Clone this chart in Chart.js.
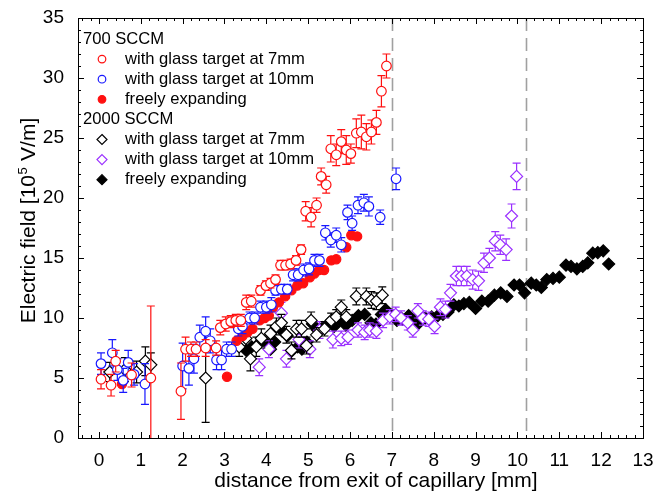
<!DOCTYPE html>
<html>
<head>
<meta charset="utf-8">
<script src="https://cdn.jsdelivr.net/npm/chart.js@4.4.0/dist/chart.umd.min.js"></script>
<style>
  html, body { margin: 0; padding: 0; background: #fff; }
  #wrap { width: 667px; height: 493px; }
</style>
</head>
<body>
<div id="wrap"><canvas id="fieldChart" width="667" height="493"></canvas></div>
<script>
"use strict";

// Axis ticks
const xTicks = [0, 1, 2, 3, 4, 5, 6, 7, 8, 9, 10, 11, 12, 13];
const yTicks = [0, 5, 10, 15, 20, 25, 30, 35];

// Dashed marker lines (target positions)
const targetLines = [7.0, 10.2];

// 700 SCCM, glass target at 7mm
const red7X = [0.05, 0.29, 0.4, 0.78, 1.24, 1.96, 2.07, 2.2, 2.32, 2.55, 2.8, 2.9, 3.03, 3.15, 3.27,
  3.39, 3.52, 3.64, 3.86, 3.99, 4.1, 4.22, 4.34, 4.46, 4.58, 4.71, 4.83, 4.94, 5.07, 5.2,
  5.31, 5.43, 5.54, 5.67, 5.79, 5.91, 6.02, 6.15, 6.27, 6.39, 6.51, 6.63, 6.75, 6.87];
const red7Y = [4.9, 4.4, 6.4, 5.25, 5.0, 3.9, 7.4, 7.4, 7.4, 7.5, 7.5, 9.2, 9.5, 9.7, 9.8,
  9.8, 11.3, 11.4, 12.3, 12.7, 12.9, 13.2, 14.4, 14.4, 14.5, 14.8, 15.7, 18.9, 18.4, 19.4,
  21.8, 21.1, 24.1, 23.6, 24.7, 24.0, 23.7, 25.4, 25.5, 25.1, 25.5, 26.3, 28.9, 31.0];
const red7Err = [0.8, 0.9, 0.9, 1.0, 6.0, 2.35, 1.0, 0.6, 0.6, 0.7, 0.6, 0.6, 0.6, 0.5, 0.5,
  0.5, 0.6, 0.5, 0.4, 0.4, 0.4, 0.4, 0.4, 0.4, 0.4, 0.4, 0.4, 0.8, 0.8, 0.6,
  0.7, 0.7, 1.1, 0.9, 1.0, 1.2, 0.8, 1.2, 1.4, 1.1, 1.0, 1.0, 1.3, 1.0];

// 700 SCCM, glass target at 10mm
const blue10X = [0.05, 0.32, 0.44, 0.58, 0.7, 0.84, 1.1, 2.0, 2.15, 2.27, 2.41, 2.55, 2.66, 2.81, 2.93,
  3.05, 3.17, 3.33, 3.43, 3.6, 3.72, 3.86, 4.0, 4.12, 4.22, 4.36, 4.5, 4.64, 4.76, 4.89,
  5.02, 5.15, 5.27, 5.41, 5.54, 5.67, 5.79, 5.94, 6.05, 6.19, 6.33, 6.45, 6.72, 7.1];
const blue10Y = [6.2, 7.1, 5.7, 4.8, 6.3, 5.3, 4.5, 6.0, 5.8, 6.6, 8.4, 8.9, 8.1, 6.5, 6.5,
  7.4, 7.4, 9.1, 9.3, 10.0, 10.0, 10.9, 10.9, 11.1, 12.3, 12.4, 12.4, 13.6, 13.6, 14.0,
  14.1, 14.8, 14.8, 17.1, 16.5, 16.9, 16.1, 18.8, 17.9, 19.4, 19.6, 19.3, 18.4, 21.6];
const blue10Err = [0.9, 1.1, 0.9, 1.0, 1.0, 0.9, 1.7, 1.9, 1.4, 1.2, 1.0, 1.2, 1.0, 0.8, 0.8,
  0.6, 0.6, 0.6, 0.6, 0.5, 0.5, 0.5, 0.5, 0.6, 0.4, 0.4, 0.4, 0.5, 0.5, 0.5,
  0.5, 0.5, 0.5, 0.6, 0.6, 0.6, 0.6, 0.6, 0.6, 0.7, 0.7, 0.8, 0.6, 0.9];

// 700 SCCM, freely expanding
const redFreeX = [0.55, 3.06, 3.29, 3.43, 3.55, 3.67, 3.84, 3.96, 4.06, 4.16, 4.3, 4.45,
  4.6, 4.74, 4.88, 5.04, 5.15, 5.26, 5.38, 5.55, 5.67, 5.91, 6.03, 6.17];
const redFreeY = [4.5, 5.1, 8.1, 8.5, 8.8, 9.1, 9.8, 10.0, 10.2, 10.9, 11.3, 11.8,
  12.3, 12.7, 12.9, 13.4, 13.7, 14.0, 14.0, 14.8, 14.9, 15.9, 16.9, 16.8];

// 2000 SCCM, glass target at 7mm
const black7X = [0.26, 0.62, 0.9, 1.11, 1.24, 2.55, 3.35, 3.51, 3.62, 3.76, 3.88, 4.1, 4.24, 4.36, 4.48,
  4.6, 4.72, 4.84, 4.96, 5.07, 5.2, 5.39, 5.55, 5.67, 5.79, 5.91, 6.15, 6.39, 6.51, 6.63, 6.77];
const black7Y = [5.5, 5.7, 5.5, 6.4, 6.1, 5.0, 7.6, 8.3, 6.6, 7.6, 8.3, 8.7, 9.3, 9.6, 8.6,
  7.3, 9.1, 9.1, 7.7, 9.8, 8.6, 9.1, 9.8, 10.1, 10.9, 10.1, 11.8, 11.8, 11.5, 11.4, 11.9];
const black7Err = [0.8, 1.0, 0.9, 1.2, 1.0, 3.7, 0.8, 0.9, 1.0, 0.8, 0.8, 0.7, 0.7, 0.7, 0.7,
  0.7, 0.7, 0.7, 0.7, 0.7, 0.6, 0.6, 0.6, 0.6, 0.6, 0.6, 0.7, 0.7, 0.7, 0.7, 0.7];

// 2000 SCCM, glass target at 10mm
const purple10X = [3.83, 4.06, 4.36, 4.48, 4.78, 5.04, 5.27, 5.59, 5.79, 5.95, 6.19, 6.35, 6.47,
  6.63, 6.79, 6.95, 7.09, 7.22, 7.38, 7.5, 7.62, 7.74, 7.88, 8.02, 8.16, 8.28, 8.4,
  8.54, 8.66, 8.79, 8.93, 9.07, 9.2, 9.33, 9.47, 9.59, 9.73, 9.86, 9.98];
const purple10Y = [5.9, 7.4, 10.4, 6.6, 8.2, 7.4, 9.0, 8.2, 8.3, 8.4, 9.0, 8.8, 9.0,
  8.9, 9.8, 10.1, 10.3, 10.0, 9.6, 9.0, 10.6, 10.0, 9.9, 9.3, 10.9, 10.7, 12.1,
  13.5, 13.5, 13.5, 13.2, 13.1, 14.6, 15.0, 16.4, 16.1, 15.7, 18.5, 21.8];
const purple10Err = [0.7, 0.7, 0.9, 0.7, 0.7, 0.7, 0.7, 0.7, 0.6, 0.6, 0.6, 0.6, 0.6,
  0.6, 0.6, 0.6, 0.6, 0.6, 0.6, 0.6, 0.6, 0.6, 0.6, 0.6, 0.7, 0.7, 0.7,
  0.8, 0.8, 0.8, 0.8, 0.8, 0.8, 0.8, 0.8, 0.8, 0.9, 1.0, 1.1];

// 2000 SCCM, freely expanding
const blackFreeX = [3.52, 3.65, 3.8, 3.95, 4.1, 4.2, 4.38, 4.5, 4.62, 4.75, 4.85, 4.97,
  5.1, 5.22, 5.35, 5.5, 5.62, 5.75, 5.9, 6.05, 6.2, 6.35, 6.5, 6.62, 6.75, 6.85, 7.0, 7.12,
  7.25, 7.4, 7.52, 7.65, 7.8, 7.95, 8.1, 8.22, 8.34, 8.48, 8.6, 8.72, 8.85, 9.0, 9.15, 9.3,
  9.45, 9.6, 9.75, 9.92, 10.05, 10.17, 10.33, 10.45, 10.57, 10.7, 10.85, 11.0, 11.16, 11.28,
  11.42, 11.56, 11.68, 11.8, 11.92, 12.05, 12.18];
const blackFreeY = [7.3, 7.6, 7.8, 8.1, 7.4, 8.0, 8.9, 8.5, 7.3, 7.6, 7.4, 8.0,
  9.5, 9.0, 9.2, 9.6, 9.3, 9.9, 9.4, 9.8, 10.2, 10.3, 9.6, 9.5, 10.3, 10.7, 10.25, 9.8,
  9.9, 10.2, 9.8, 9.6, 10.0, 10.1, 10.2, 10.3, 10.5, 11.1, 11.0, 11.2, 11.3, 10.8, 11.4, 11.4,
  11.9, 12.1, 11.8, 12.75, 12.75, 12.1, 12.9, 12.75, 12.55, 13.2, 13.3, 13.4, 14.4, 14.3,
  14.1, 14.3, 14.6, 15.4, 15.45, 15.6, 14.5];

const FONT = '"Liberation Sans", Arial, sans-serif';
const RED = "#ff1010";
const BLUE = "#1818ff";
const PURPLE = "#9a30ff";
const BLACK = "#000000";

// Turn x/y arrays into point objects
function toPoints(xs, ys) {
  return xs.map((x, i) => ({ x: x, y: ys[i] }));
}

// Draw vertical error bars for a dataset, just before its markers
const errorBars = {
  id: "errorBars",
  beforeDatasetDraw(chart, args) {
    const ds = chart.data.datasets[args.index];
    if (!ds.errors) return;
    const ctx = chart.ctx;
    const area = chart.chartArea;
    const xs = chart.scales.x;
    const ys = chart.scales.y;
    ctx.save();
    ctx.beginPath();
    ctx.rect(area.left, area.top, area.right - area.left, area.bottom - area.top);
    ctx.clip();
    ctx.strokeStyle = ds.borderColor;
    ctx.lineWidth = 1.2;
    ds.data.forEach((p, i) => {
      const e = ds.errors[i];
      const px = xs.getPixelForValue(p.x);
      const top = ys.getPixelForValue(p.y + e);
      const bot = ys.getPixelForValue(p.y - e);
      ctx.beginPath();
      ctx.moveTo(px, top);
      ctx.lineTo(px, bot);
      ctx.moveTo(px - 4, top);
      ctx.lineTo(px + 4, top);
      ctx.moveTo(px - 4, bot);
      ctx.lineTo(px + 4, bot);
      ctx.stroke();
    });
    ctx.restore();
  }
};

// Dashed vertical lines behind the data
const dashedLines = {
  id: "dashedLines",
  beforeDatasetsDraw(chart) {
    const ctx = chart.ctx;
    const area = chart.chartArea;
    ctx.save();
    ctx.strokeStyle = "#a0a0a0";
    ctx.lineWidth = 1.6;
    ctx.setLineDash([13, 7]);
    targetLines.forEach((v) => {
      const px = Math.round(chart.scales.x.getPixelForValue(v)) + 0.5;
      ctx.beginPath();
      ctx.moveTo(px, area.top);
      ctx.lineTo(px, area.bottom);
      ctx.stroke();
    });
    ctx.restore();
  }
};

// Box frame with inward ticks on all four sides
const frameTicks = {
  id: "frameTicks",
  afterDraw(chart) {
    const ctx = chart.ctx;
    const a = chart.chartArea;
    const xs = chart.scales.x;
    const ys = chart.scales.y;
    ctx.save();
    ctx.strokeStyle = "#000";
    ctx.lineWidth = 1;
    ctx.strokeRect(Math.round(a.left) + 0.5, Math.round(a.top) + 0.5,
      Math.round(a.right - a.left), Math.round(a.bottom - a.top));
    ctx.beginPath();
    for (let i = -2; i <= 65; i++) {
      const v = i * 0.2;
      const len = i % 5 === 0 ? 6 : 3;
      const px = Math.round(xs.getPixelForValue(v)) + 0.5;
      ctx.moveTo(px, a.bottom);
      ctx.lineTo(px, a.bottom - len);
      ctx.moveTo(px, a.top);
      ctx.lineTo(px, a.top + len);
    }
    for (let v = 0; v <= 35; v++) {
      const len = v % 5 === 0 ? 6 : 3;
      const py = Math.round(ys.getPixelForValue(v)) + 0.5;
      ctx.moveTo(a.left, py);
      ctx.lineTo(a.left + len, py);
      ctx.moveTo(a.right, py);
      ctx.lineTo(a.right - len, py);
    }
    ctx.stroke();
    ctx.restore();
  }
};

// Axis titles, with a real superscript in the y title
const axisTitles = {
  id: "axisTitles",
  afterDraw(chart) {
    const ctx = chart.ctx;
    ctx.save();
    ctx.fillStyle = "#000";
    ctx.textBaseline = "middle";

    // x title
    ctx.font = "21px " + FONT;
    ctx.textAlign = "center";
    ctx.fillText("distance from exit of capillary [mm]", 376, 481);

    // y title, rotated
    const partA = "Electric field [10";
    const partB = "5";
    const partC = " V/m]";
    ctx.font = "21px " + FONT;
    const wA = ctx.measureText(partA).width;
    const wC = ctx.measureText(partC).width;
    ctx.font = "13px " + FONT;
    const wB = ctx.measureText(partB).width;
    const total = wA + wB + wC;
    ctx.translate(29, 221);
    ctx.rotate(-Math.PI / 2);
    ctx.textAlign = "left";
    let x = -total / 2;
    ctx.font = "21px " + FONT;
    ctx.fillText(partA, x, 0);
    x += wA;
    ctx.font = "13px " + FONT;
    ctx.fillText(partB, x + 0.5, -6);
    x += wB + 1;
    ctx.font = "21px " + FONT;
    ctx.fillText(partC, x, 0);
    ctx.restore();
  }
};

// Grouped legend in the upper left corner
const groupLegend = {
  id: "groupLegend",
  afterDraw(chart) {
    const ctx = chart.ctx;
    const rows = [
      { header: "700 SCCM" },
      { text: "with glass target at 7mm", shape: "circle", color: RED, filled: false },
      { text: "with glass target at 10mm", shape: "circle", color: BLUE, filled: false },
      { text: "freely expanding", shape: "circle", color: RED, filled: true },
      { header: "2000 SCCM" },
      { text: "with glass target at 7mm", shape: "diamond", color: BLACK, filled: false },
      { text: "with glass target at 10mm", shape: "diamond", color: PURPLE, filled: false },
      { text: "freely expanding", shape: "diamond", color: BLACK, filled: true }
    ];
    ctx.save();
    ctx.font = "16.6px " + FONT;
    ctx.textBaseline = "middle";
    ctx.fillStyle = "#000";
    rows.forEach((r, i) => {
      const y = 39 + i * 20.1;
      if (r.header) {
        ctx.fillStyle = "#000";
        ctx.fillText(r.header, 83, y);
        return;
      }
      const mx = 102;
      ctx.beginPath();
      if (r.shape === "circle") {
        ctx.arc(mx, y, 3.8, 0, Math.PI * 2);
      } else {
        ctx.moveTo(mx, y - 5);
        ctx.lineTo(mx + 5, y);
        ctx.lineTo(mx, y + 5);
        ctx.lineTo(mx - 5, y);
        ctx.closePath();
      }
      ctx.fillStyle = r.filled ? r.color : "#fff";
      ctx.fill();
      ctx.strokeStyle = r.color;
      ctx.lineWidth = 1.2;
      ctx.stroke();
      ctx.fillStyle = "#000";
      ctx.fillText(r.text, 125, y);
    });
    ctx.restore();
  }
};

// Shared dataset settings
function series(label, xs, ys, errs, color, style, filled, radius) {
  return {
    label: label,
    data: toPoints(xs, ys),
    errors: errs,
    borderColor: color,
    backgroundColor: filled ? color : "#ffffff",
    pointStyle: style,
    pointRadius: radius,
    pointBorderWidth: 1.2,
    showLine: false
  };
}

const datasets = [
  series("700 target 7mm", red7X, red7Y, red7Err, RED, "circle", false, 4.8),
  series("700 target 10mm", blue10X, blue10Y, blue10Err, BLUE, "circle", false, 4.8),
  series("700 free", redFreeX, redFreeY, null, RED, "circle", true, 4.6),
  series("2000 target 7mm", black7X, black7Y, black7Err, BLACK, "rectRot", false, 6),
  series("2000 target 10mm", purple10X, purple10Y, purple10Err, PURPLE, "rectRot", false, 6),
  series("2000 free", blackFreeX, blackFreeY, null, BLACK, "rectRot", true, 6)
];

const ctx = document.getElementById("fieldChart").getContext("2d");
new Chart(ctx, {
  type: "scatter",
  data: { datasets: datasets },
  plugins: [dashedLines, errorBars, frameTicks, axisTitles, groupLegend],
  options: {
    responsive: false,
    animation: false,
    events: [],
    layout: { padding: { left: 0, top: 18, right: 24, bottom: 0 } },
    plugins: {
      legend: { display: false },
      tooltip: { enabled: false }
    },
    scales: {
      x: {
        type: "linear",
        min: -0.5,
        max: 13,
        grid: { display: false },
        border: { display: false },
        ticks: { color: "#000", font: { family: FONT, size: 19 }, padding: 3, maxRotation: 0, autoSkip: false },
        afterBuildTicks: (scale) => { scale.ticks = xTicks.map((v) => ({ value: v })); },
        afterFit: (scale) => { scale.height = 55; }
      },
      y: {
        type: "linear",
        min: 0,
        max: 35,
        grid: { display: false },
        border: { display: false },
        ticks: { color: "#000", font: { family: FONT, size: 19 }, padding: 6 },
        afterBuildTicks: (scale) => { scale.ticks = yTicks.map((v) => ({ value: v })); },
        afterFit: (scale) => { scale.width = 78; }
      }
    }
  }
});
</script>
</body>
</html>
